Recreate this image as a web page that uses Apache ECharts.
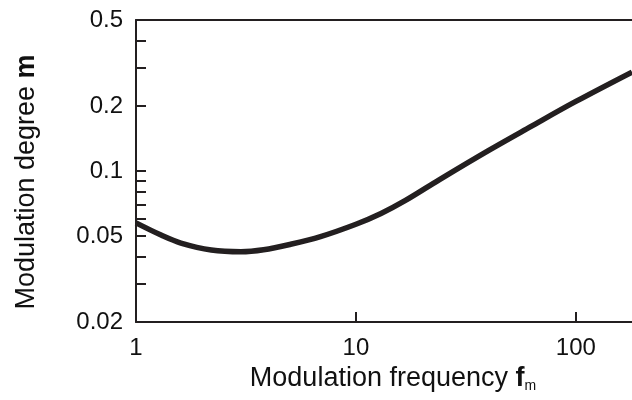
<!DOCTYPE html>
<html>
<head>
<meta charset="utf-8">
<script src="https://cdn.jsdelivr.net/npm/echarts@6/dist/echarts.min.js"></script>
<style>html,body{margin:0;padding:0;background:#fff}#c{width:632px;height:400px}</style>
</head>
<body>
<div id="c"></div>
<script>
const freq = [1, 1.3, 1.6, 2.2, 3, 3.8, 5, 6.9, 10, 13, 16.8, 24, 40, 62, 100, 180];
const degree = [0.0575, 0.0505, 0.0464, 0.0431, 0.0423, 0.0432, 0.0457, 0.0497, 0.0567, 0.0636, 0.0731, 0.0913, 0.1243, 0.1600, 0.2099, 0.287];
const xLabelValues = [1, 10, 100];
const xTickValues = [10, 100];
const yLabelValues = [0.02, 0.05, 0.1, 0.2, 0.5];
const yTickValues = [0.03, 0.04, 0.05, 0.06, 0.07, 0.08, 0.09, 0.1, 0.2, 0.3, 0.4];

const ink = '#231f20';
const font = 'Liberation Sans';
const chart = echarts.init(document.getElementById('c'), null, {renderer: 'canvas'});
chart.setOption({
  animation: false,
  grid: {left: 136, right: 0, top: 20, bottom: 78, containLabel: false},
  xAxis: [{
    type: 'log', logBase: 10, min: 1, max: 180,
    position: 'bottom',
    name: '{n|Modulation frequency }{b|f}{s|m}',
    nameLocation: 'middle', nameGap: 32,
    nameTextStyle: {
      padding: [0, 0, 0, 18],
      rich: {
        n: {fontFamily: font, fontSize: 27, color: '#111'},
        b: {fontFamily: font, fontSize: 27, fontWeight: 'bold', color: '#111'},
        s: {fontFamily: font, fontSize: 14, color: '#111', verticalAlign: 'bottom', padding: [16, 0, 0, 0]}
      }
    },
    axisLine: {show: true, onZero: false, lineStyle: {color: ink, width: 2}},
    axisTick: {show: true, inside: true, length: 10, customValues: xTickValues, lineStyle: {color: ink, width: 2}},
    minorTick: {show: false},
    axisLabel: {show: true, customValues: xLabelValues, margin: 14, fontFamily: font, fontSize: 24, color: '#111',
      formatter: v => String(+Number(v).toPrecision(6))},
    splitLine: {show: false}
  }, {
    type: 'value', min: 0, max: 1, position: 'top',
    axisLine: {show: true, onZero: false, lineStyle: {color: ink, width: 2}},
    axisTick: {show: false}, axisLabel: {show: false}, splitLine: {show: false}
  }],
  yAxis: {
    type: 'log', logBase: 10, min: 0.02, max: 0.5,
    name: '{n|Modulation degree }{b|m}',
    nameLocation: 'middle', nameGap: 96, nameRotate: 90,
    nameTextStyle: {
      padding: [0, 22, 0, 0],
      rich: {
        n: {fontFamily: font, fontSize: 27, color: '#111'},
        b: {fontFamily: font, fontSize: 27, fontWeight: 'bold', color: '#111'}
      }
    },
    axisLine: {show: true, onZero: false, lineStyle: {color: ink, width: 2}},
    axisTick: {show: true, inside: true, length: 10, customValues: yTickValues, lineStyle: {color: ink, width: 2}},
    minorTick: {show: false},
    axisLabel: {show: true, customValues: yLabelValues, margin: 13, fontFamily: font, fontSize: 24, color: '#111',
      formatter: v => String(+Number(v).toPrecision(6))},
    splitLine: {show: false}
  },
  series: [{
    type: 'line', xAxisIndex: 0, yAxisIndex: 0,
    data: freq.map((f, i) => [f, degree[i]]),
    smooth: 0.35, showSymbol: false, clip: true,
    lineStyle: {color: ink, width: 5.5}
  }]
});
</script>
</body>
</html>
